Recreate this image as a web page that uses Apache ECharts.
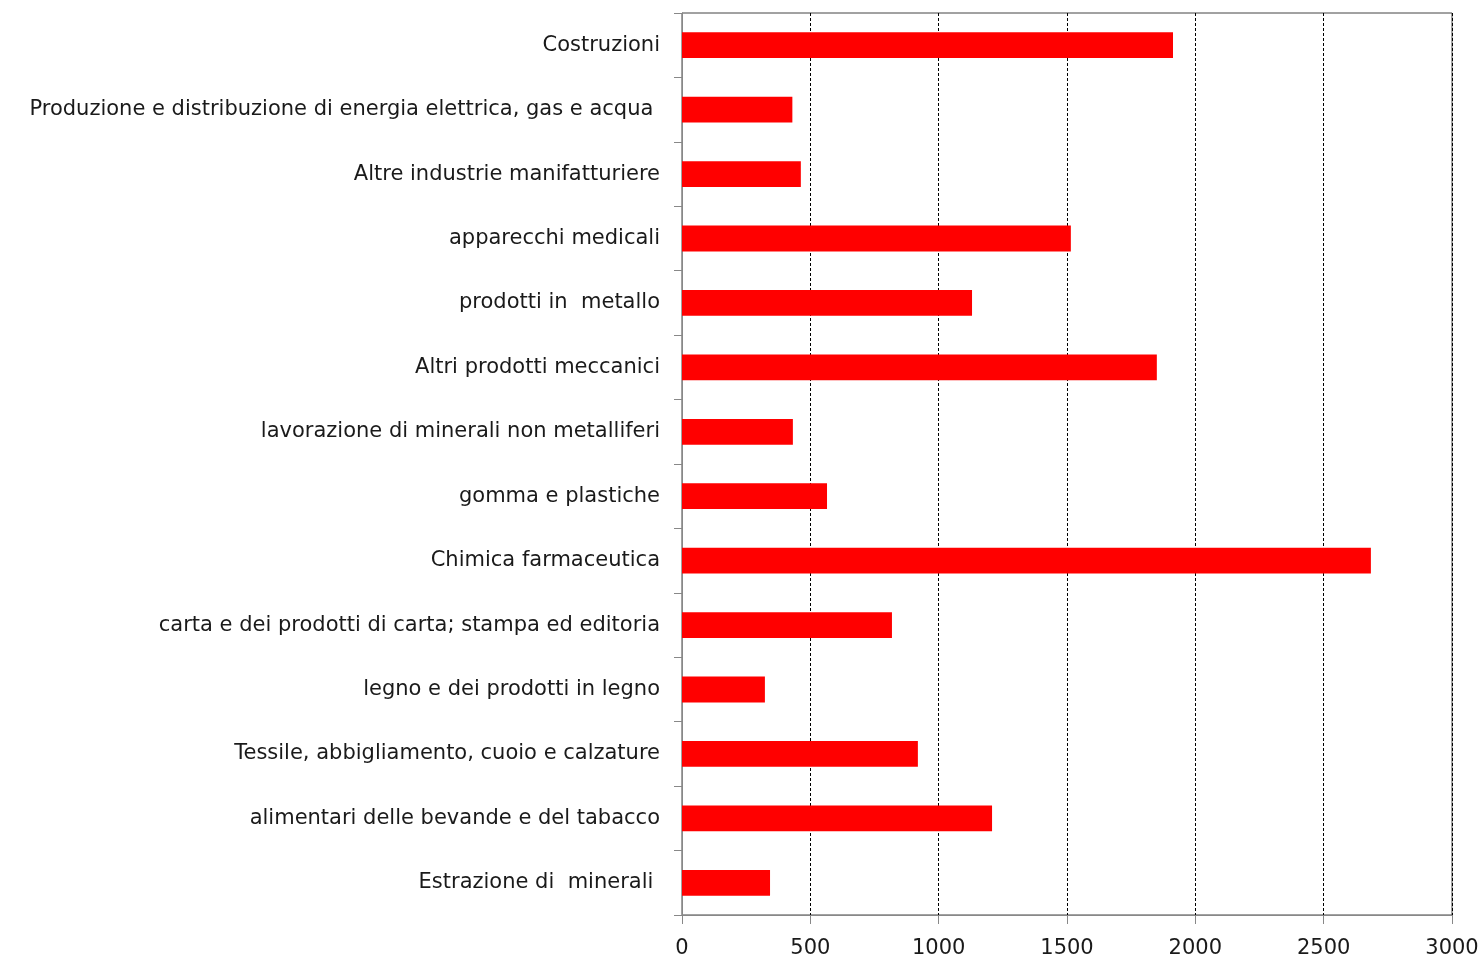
<!DOCTYPE html>
<html>
<head>
<meta charset="utf-8">
<script src="https://cdn.jsdelivr.net/npm/echarts@6/dist/echarts.min.js"></script>
<style>
  html, body { margin: 0; padding: 0; background: #fff; }
  #chart { width: 1483px; height: 959px; }
</style>
</head>
<body>
<div id="chart"></div>
<script>
// categories, top to bottom as in the picture
const categories = [
  'Costruzioni',
  'Produzione e distribuzione di energia elettrica, gas e acqua ',
  'Altre industrie manifatturiere',
  'apparecchi medicali',
  'prodotti in  metallo',
  'Altri prodotti meccanici',
  'lavorazione di minerali non metalliferi',
  'gomma e plastiche',
  'Chimica farmaceutica',
  'carta e dei prodotti di carta; stampa ed editoria',
  'legno e dei prodotti in legno',
  'Tessile, abbigliamento, cuoio e calzature',
  'alimentari delle bevande e del tabacco',
  'Estrazione di  minerali '
]
const values = [1913, 430, 463, 1515, 1130, 1850, 432, 565, 2684, 818, 323, 919, 1208, 343]
const xTicks = [0, 500, 1000, 1500, 2000, 2500, 3000]

const fontFamily = '"DejaVu Sans", sans-serif'

const chart = echarts.init(document.getElementById('chart'))
chart.setOption({
  animation: false,
  grid: {
    left: 682,
    right: 31,
    top: 13,
    bottom: 43,
    show: true,
    borderColor: '#444',
    borderWidth: 1
  },
  xAxis: {
    type: 'value',
    min: xTicks[0],
    max: xTicks[xTicks.length - 1],
    interval: 500,
    axisLine: { show: true, lineStyle: { color: '#888', width: 1 } },
    axisTick: { show: true, length: 9, lineStyle: { color: '#888' } },
    axisLabel: {
      color: '#1a1a1a',
      fontSize: 21,
      fontFamily: fontFamily,
      margin: 23,
      formatter: v => String(v)
    },
    splitLine: { show: true, lineStyle: { color: '#000', type: [3, 2], width: 1 } }
  },
  yAxis: {
    type: 'category',
    inverse: true,
    data: categories,
    axisLine: { show: true, lineStyle: { color: '#888', width: 1 } },
    axisTick: { show: true, length: 8, lineStyle: { color: '#888' } },
    axisLabel: { color: '#1a1a1a', fontSize: 21, fontFamily: fontFamily, margin: 22, padding: [2, 0, 0, 0] }
  },
  series: [{
    type: 'bar',
    data: values,
    barWidth: '40%',
    itemStyle: { color: '#ff0000' }
  }]
})
</script>
</body>
</html>
